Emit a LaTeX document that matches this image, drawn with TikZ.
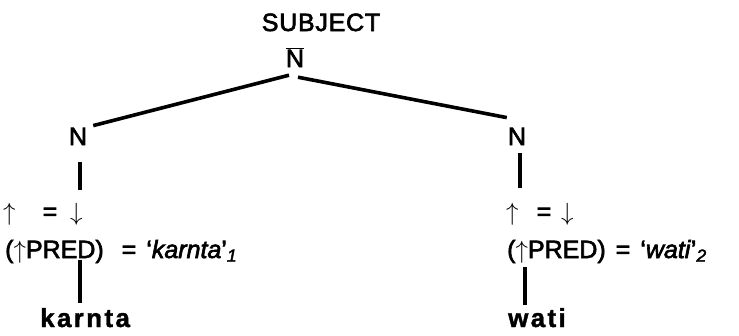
\documentclass[tikz,border=0pt]{standalone}
\usepackage{fontspec}
\setmainfont{Liberation Sans}
\usetikzlibrary{calc}
\newcommand{\uarr}{$\uparrow$}
\newcommand{\darr}{$\downarrow$}
\tikzset{
	cat/.style={
		anchor=base,
		inner sep=0pt,
		font=\fontsize{25}{30}\selectfont\addfontfeatures{LetterSpace=3,FakeBold=2.5}
	},
	feq/.style={
		anchor=base west,
		inner sep=0pt,
		font=\fontsize{25}{30}\selectfont\addfontfeatures{FakeBold=2.5}
	},
	lex/.style={
		anchor=base west,
		inner sep=0pt,
		font=\fontsize{26}{30}\selectfont\bfseries\addfontfeatures{LetterSpace=9,FakeBold=1.5}
	},
	branch/.style={
		line width=3.6pt
	}
}

\begin{document}
\begin{tikzpicture}[x=1pt,y=-1pt]
	\useasboundingbox (0,0) rectangle (739,335);
	
	% SUBJECT N-bar
	\node[cat] (subj) at (321,31) {SUBJECT};
	\node[cat] (nbar) at (295,67) {$\overline{\hbox{N}}$};
	\node[cat] (nL) at (78,145) {N};
	\node[cat] (nR) at (517,145) {N};
	\draw[branch] ($(nbar.south)+(-6,8)$) -- ($(nL.north east)+(6,-2)$);
	\draw[branch] ($(nbar.south)+(3,10)$) -- ($(nR.north west)+(-1,-10)$);
	
	% karnta
	\node[feq] (eqL) at (3,220) {\uarr\hspace{27pt}=\hspace{13pt}\darr};
	\node[feq] (predL) at (5,258) {(\uarr PRED)\hspace{18pt}=\hspace{10pt}`\textit{karnta}'\textsubscript{\textit{1}}};
	\node[lex] (wordL) at (40,327) {karnta};
	\draw[branch] ($(nL.south)+(2,17)$) -- ($(nL.south |- eqL.base)+(2,-30)$);
	\draw[branch] ($(nL.south |- predL.base)+(2,2)$) -- ($(nL.south |- wordL.base)+(2,-24)$);
	
	% wati
	\node[feq] (eqR) at (506,220) {\uarr\hspace{18pt}=\hspace{10pt}\darr};
	\node[feq] (predR) at (507,258) {(\uarr PRED)\hspace{10pt}=\hspace{10pt}`\textit{wati}'\textsubscript{\textit{2}}};
	\node[lex] (wordR) at (508,327) {wati};
	\draw[branch] ($(nR.south)+(3,8)$) -- ($(nR.south |- eqR.base)+(3,-32)$);
	\draw[branch] ($(nR.south |- predR.base)+(8,9)$) -- ($(nR.south |- wordR.base)+(8,-22)$);
\end{tikzpicture}
\end{document}
